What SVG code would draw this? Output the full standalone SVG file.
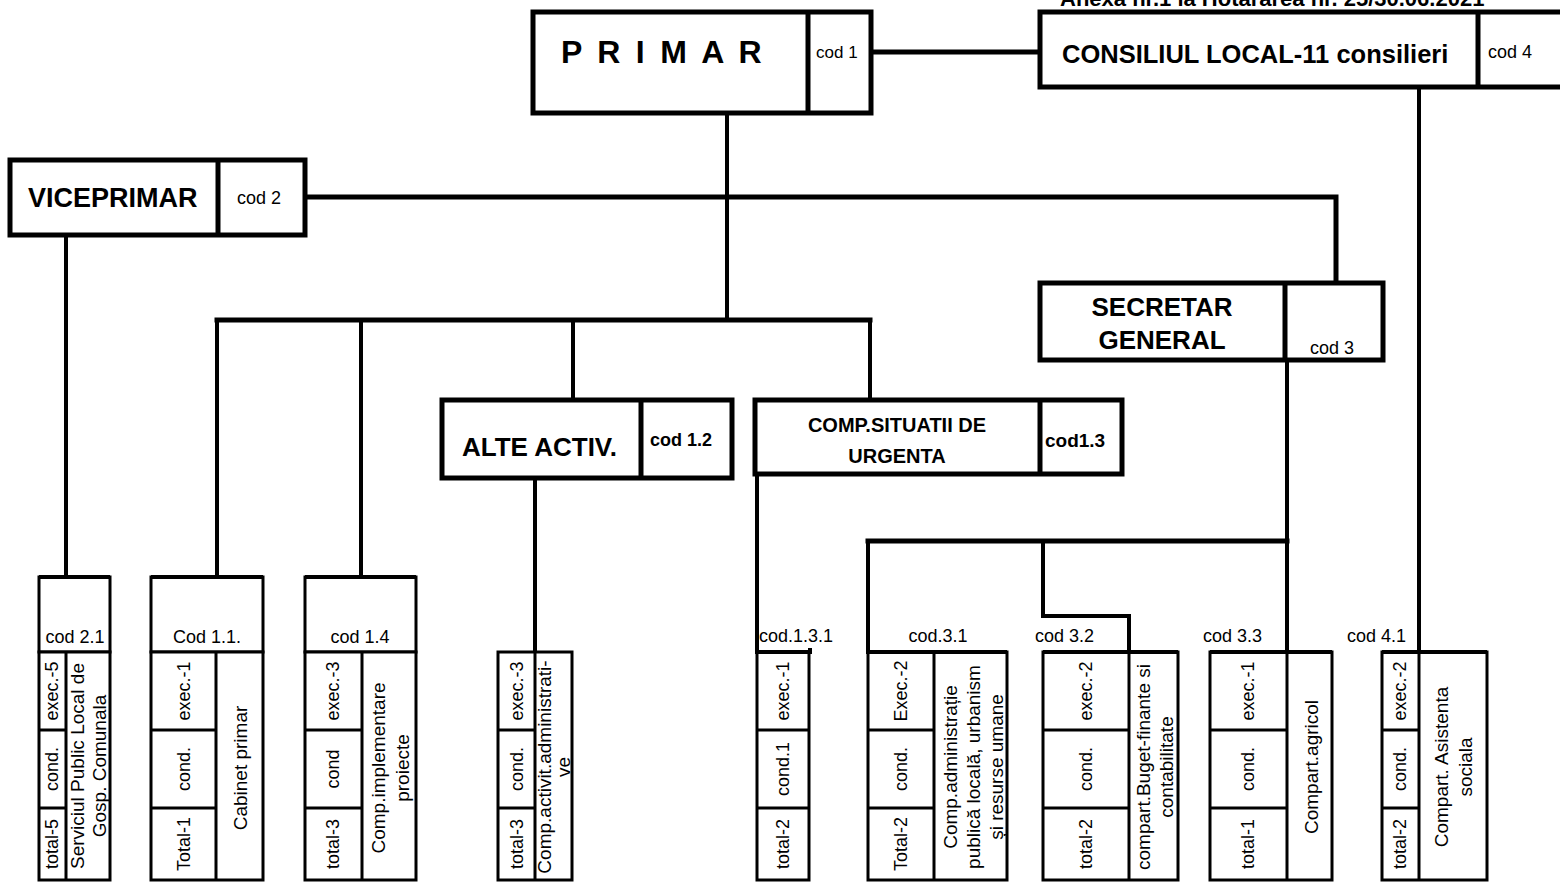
<svg xmlns="http://www.w3.org/2000/svg" width="1560" height="883" viewBox="0 0 1560 883">
<style>
.box{fill:#fff;stroke:#000;stroke-width:5}
.ln{stroke:#000;stroke-width:5;fill:none}
.sb{fill:#fff;stroke:#000;stroke-width:3}
.sl{stroke:#000;stroke-width:3;fill:none}
.ht{stroke:#000;stroke-width:4;fill:none}
.conn path{stroke:#000;fill:none;stroke-width:4;stroke-linecap:square}
.conn .w{stroke-width:5}
text{font-family:"Liberation Sans",Arial,sans-serif;fill:#000}
.b{font-weight:bold}
.lb{font-size:18px}
.nm{font-size:19px}
.r{text-anchor:middle;dominant-baseline:central}
.c{text-anchor:middle}
</style>
<rect width="1560" height="883" fill="#fff"/>
<text class="b" x="1060" y="6" font-size="22">Anexa nr.1 la Hotararea nr. 25/30.06.2021</text>

<g id="connectors" class="conn">
<path class="w" d="M871,52 H1040"/>
<path d="M727,113 V320"/>
<path class="w" d="M217,320 H870"/>
<path d="M217,320 V577 M361,320 V577 M573,320 V398 M870,320 V400"/>
<path class="w" d="M305,197 H1336 V283"/>
<path d="M66,235 V577"/>
<path d="M535,478 V652"/>
<path d="M757,474 V652"/>
<path d="M1287,360 V652"/>
<path class="w" d="M868,541 H1287"/>
<path d="M868,541 V652"/>
<path d="M1043,541 V616 H1129 V652"/>
<path d="M1419,87 V652"/>
</g>

<g id="primar">
<rect class="box" x="533" y="12" width="338" height="101"/>
<path class="ln" d="M808,12 V113"/>
<text class="b" x="561" y="63" font-size="32" letter-spacing="3.3">P R I M A R</text>
<text x="816" y="58" font-size="17">cod 1</text>
</g>

<g id="consiliu">
<rect class="box" x="1040" y="12" width="540" height="75"/>
<path class="ln" d="M1478,12 V87"/>
<text class="b" x="1062" y="63" font-size="25.5">CONSILIUL LOCAL-11 consilieri</text>
<text x="1488" y="58" font-size="18">cod 4</text>
</g>

<g id="viceprimar">
<rect class="box" x="10" y="160" width="295" height="75"/>
<path class="ln" d="M218,160 V235"/>
<text class="b" x="28" y="207" font-size="27">VICEPRIMAR</text>
<text x="237" y="204" font-size="18">cod 2</text>
</g>

<g id="secretar">
<rect class="box" x="1040" y="283" width="343" height="77"/>
<path class="ln" d="M1285,283 V360"/>
<text class="b c" x="1162" y="316" font-size="26">SECRETAR</text>
<text class="b c" x="1162" y="349" font-size="26">GENERAL</text>
<text x="1310" y="354" font-size="18">cod 3</text>
</g>

<g id="alte">
<rect class="box" x="442" y="400" width="290" height="78"/>
<path class="ln" d="M641,400 V478"/>
<text class="b" x="462" y="456" font-size="26">ALTE ACTIV.</text>
<text class="b" x="650" y="446" font-size="18">cod 1.2</text>
</g>

<g id="situatii">
<rect class="box" x="755" y="400" width="367" height="74"/>
<path class="ln" d="M1040,400 V474"/>
<text class="b c" x="897" y="432" font-size="20">COMP.SITUATII DE</text>
<text class="b c" x="897" y="463" font-size="20">URGENTA</text>
<text class="b" x="1045" y="447" font-size="19">cod1.3</text>
</g>

<g id="cod21">
<rect class="sb" x="39" y="577" width="71" height="75"/>
<path class="ht" d="M39,577 H110"/>
<text class="lb c" x="75" y="643">cod 2.1</text>
<rect class="sb" x="39" y="652" width="71" height="228"/>
<path class="sl" d="M66,652 V880 M39,730 H66 M39,808 H66"/>
<text class="lb r" transform="translate(52,691) rotate(-90)">exec.-5</text>
<text class="lb r" transform="translate(52,769) rotate(-90)">cond.</text>
<text class="lb r" transform="translate(52,844) rotate(-90)">total-5</text>
<text class="nm r" transform="translate(77,766) rotate(-90)">Serviciul Public Local de</text>
<text class="nm r" transform="translate(99,766) rotate(-90)">Gosp. Comunala</text>
</g>

<g id="cod11">
<rect class="sb" x="151" y="577" width="112" height="75"/>
<path class="ht" d="M151,577 H263"/>
<text class="lb c" x="207" y="643">Cod 1.1.</text>
<rect class="sb" x="151" y="652" width="112" height="228"/>
<path class="sl" d="M216,652 V880 M151,730 H216 M151,808 H216"/>
<text class="lb r" transform="translate(184,691) rotate(-90)">exec.-1</text>
<text class="lb r" transform="translate(184,769) rotate(-90)">cond.</text>
<text class="lb r" transform="translate(184,844) rotate(-90)">Total-1</text>
<text class="nm r" transform="translate(240,768) rotate(-90)">Cabinet primar</text>
</g>

<g id="cod14">
<rect class="sb" x="305" y="577" width="111" height="75"/>
<path class="ht" d="M305,577 H416"/>
<text class="lb c" x="360" y="643">cod 1.4</text>
<rect class="sb" x="305" y="652" width="111" height="228"/>
<path class="sl" d="M362,652 V880 M305,730 H362 M305,808 H362"/>
<text class="lb r" transform="translate(333,691) rotate(-90)">exec.-3</text>
<text class="lb r" transform="translate(333,769) rotate(-90)">cond</text>
<text class="lb r" transform="translate(333,844) rotate(-90)">total-3</text>
<text class="nm r" transform="translate(378,768) rotate(-90)">Comp.implementare</text>
<text class="nm r" transform="translate(402,768) rotate(-90)">proiecte</text>
</g>

<g id="activit">
<rect class="sb" x="498" y="652" width="74" height="228"/>
<path class="sl" d="M535,652 V880 M498,730 H535 M498,808 H535"/>
<text class="lb r" transform="translate(517,691) rotate(-90)">exec.-3</text>
<text class="lb r" transform="translate(517,769) rotate(-90)">cond.</text>
<text class="lb r" transform="translate(517,844) rotate(-90)">total-3</text>
<text class="nm r" transform="translate(544,767) rotate(-90)">Comp.activit.administrati-</text>
<text class="nm r" transform="translate(563,767) rotate(-90)">ve</text>
</g>

<g id="cod131">
<text class="lb" x="759" y="642">cod.1.3.1</text>
<path class="ht" d="M757,652 H811 M810,648 V654"/>
<path class="sl" d="M757,652 V880 H809 V652 M757,730 H809 M757,808 H809"/>
<text class="lb r" transform="translate(783,691) rotate(-90)">exec.-1</text>
<text class="lb r" transform="translate(783,769) rotate(-90)">cond.1</text>
<text class="lb r" transform="translate(783,844) rotate(-90)">total-2</text>
</g>

<g id="cod31">
<text class="lb c" x="938" y="642">cod.3.1</text>
<rect class="sb" x="868" y="652" width="139" height="228"/>
<path class="ht" d="M868,652 H1007"/>
<path class="sl" d="M934,652 V880 M868,730 H934 M868,808 H934"/>
<text class="lb r" transform="translate(901,691) rotate(-90)">Exec.-2</text>
<text class="lb r" transform="translate(901,769) rotate(-90)">cond.</text>
<text class="lb r" transform="translate(901,844) rotate(-90)">Total-2</text>
<text class="nm r" transform="translate(950,767) rotate(-90)">Comp.administrație</text>
<text class="nm r" transform="translate(973,767) rotate(-90)">publică locală, urbanism</text>
<text class="nm r" transform="translate(996,767) rotate(-90)">și resurse umane</text>
</g>

<g id="cod32">
<text class="lb" x="1035" y="642">cod 3.2</text>
<rect class="sb" x="1043" y="652" width="135" height="228"/>
<path class="ht" d="M1043,652 H1178"/>
<path class="sl" d="M1129,652 V880 M1043,730 H1129 M1043,808 H1129"/>
<text class="lb r" transform="translate(1086,691) rotate(-90)">exec.-2</text>
<text class="lb r" transform="translate(1086,769) rotate(-90)">cond.</text>
<text class="lb r" transform="translate(1086,844) rotate(-90)">total-2</text>
<text class="nm r" transform="translate(1143,767) rotate(-90)">compart.Buget-finante si</text>
<text class="nm r" transform="translate(1166,767) rotate(-90)">contabilitate</text>
</g>

<g id="cod33">
<text class="lb" x="1203" y="642">cod 3.3</text>
<rect class="sb" x="1210" y="652" width="122" height="228"/>
<path class="ht" d="M1210,652 H1332"/>
<path class="sl" d="M1287,652 V880 M1210,730 H1287 M1210,808 H1287"/>
<text class="lb r" transform="translate(1248,691) rotate(-90)">exec.-1</text>
<text class="lb r" transform="translate(1248,769) rotate(-90)">cond.</text>
<text class="lb r" transform="translate(1248,844) rotate(-90)">total-1</text>
<text class="nm r" transform="translate(1311,767) rotate(-90)">Compart.agricol</text>
</g>

<g id="cod41">
<text class="lb" x="1347" y="642">cod 4.1</text>
<rect class="sb" x="1382" y="652" width="105" height="228"/>
<path class="ht" d="M1382,652 H1487"/>
<path class="sl" d="M1419,652 V880 M1382,730 H1419 M1382,808 H1419"/>
<text class="lb r" transform="translate(1400,691) rotate(-90)">exec.-2</text>
<text class="lb r" transform="translate(1400,769) rotate(-90)">cond.</text>
<text class="lb r" transform="translate(1400,844) rotate(-90)">total-2</text>
<text class="nm r" transform="translate(1441,767) rotate(-90)">Compart. Asistenta</text>
<text class="nm r" transform="translate(1465,767) rotate(-90)">sociala</text>
</g>
</svg>
